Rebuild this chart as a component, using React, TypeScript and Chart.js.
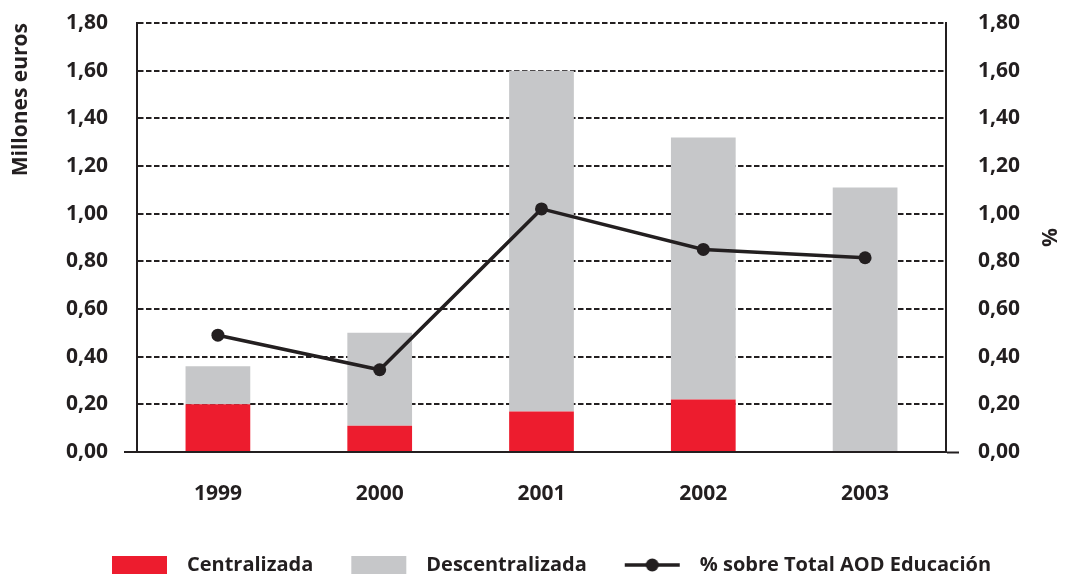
import React, { useEffect, useRef } from "react";
import { Chart, registerables } from "chart.js";

Chart.register(...registerables);

const years = ["1999", "2000", "2001", "2002", "2003"];
const centralizada = [0.2, 0.11, 0.17, 0.22, 0];
const descentralizada = [0.16, 0.39, 1.43, 1.1, 1.11];
const porcentajeAOD = [0.49, 0.345, 1.02, 0.85, 0.815];
const legendLabels = ["Centralizada", "Descentralizada", "% sobre Total AOD Educación"];

const INK = "#231f20";
const RED = "#ed1c2e";
const GRAY = "#c6c7c9";
const FONT = "'Open Sans', 'DejaVu Sans', sans-serif";

const ICON_MARGIN = 38;
const ICON_W = 55;
const ICON_GAP = 10;
const ICON_TOTAL = ICON_MARGIN + ICON_W + ICON_GAP;

function makeIcon(kind: "rect-red" | "rect-gray" | "line"): HTMLCanvasElement {
  const c = document.createElement("canvas");
  c.width = ICON_TOTAL;
  c.height = 18;
  const g = c.getContext("2d")!;
  if (kind === "line") {
    g.strokeStyle = INK;
    g.lineWidth = 3.5;
    g.beginPath();
    g.moveTo(ICON_MARGIN, 9);
    g.lineTo(ICON_MARGIN + ICON_W, 9);
    g.stroke();
    g.fillStyle = INK;
    g.beginPath();
    g.arc(ICON_MARGIN + ICON_W / 2, 9, 6.5, 0, Math.PI * 2);
    g.fill();
  } else {
    g.fillStyle = kind === "rect-red" ? RED : GRAY;
    g.fillRect(ICON_MARGIN, 0, ICON_W, 18);
  }
  return c;
}

const fmt = (v: number | string) => Number(v).toFixed(2).replace(".", ",");

export default function App() {
  const ref = useRef<HTMLCanvasElement | null>(null);

  useEffect(() => {
    document.body.style.margin = "0";
    if (!ref.current) return;
    const icons = [makeIcon("rect-red"), makeIcon("rect-gray"), makeIcon("line")];
    const zeroTick = (ctx: any) => (ctx.tick && ctx.tick.value === 0 ? INK : "rgba(0,0,0,0)");

    const chart = new Chart(ref.current, {
      type: "bar",
      data: {
        labels: years,
        datasets: [
          {
            type: "line",
            label: legendLabels[2],
            data: porcentajeAOD,
            yAxisID: "y1",
            borderColor: INK,
            backgroundColor: INK,
            borderWidth: 3.5,
            pointRadius: 6.5,
            pointBackgroundColor: INK,
            pointBorderWidth: 0,
            tension: 0,
            order: 0,
          } as any,
          {
            type: "bar",
            label: legendLabels[0],
            data: centralizada,
            backgroundColor: RED,
            yAxisID: "y",
            stack: "s",
            barPercentage: 0.4,
            categoryPercentage: 1,
            order: 1,
          },
          {
            type: "bar",
            label: legendLabels[1],
            data: descentralizada,
            backgroundColor: GRAY,
            yAxisID: "y",
            stack: "s",
            barPercentage: 0.4,
            categoryPercentage: 1,
            order: 2,
          },
        ],
      },
      options: {
        responsive: false,
        animation: false,
        devicePixelRatio: 1,
        layout: { padding: { top: 23, left: 0, right: 0, bottom: -10 } },
        plugins: {
          tooltip: { enabled: false },
          legend: {
            position: "bottom",
            align: "center",
            labels: {
              usePointStyle: true,
              pointStyleWidth: ICON_TOTAL,
              padding: 0,
              color: INK,
              font: { family: FONT, size: 20, weight: "bold" },
              generateLabels: () =>
                legendLabels.map((t, i) => ({
                  text: t,
                  pointStyle: icons[i] as any,
                  fillStyle: "rgba(0,0,0,0)",
                  strokeStyle: "rgba(0,0,0,0)",
                  lineWidth: 0,
                  hidden: false,
                  datasetIndex: i === 2 ? 0 : i + 1,
                  fontColor: INK,
                })),
            },
          },
        },
        scales: {
          x: {
            stacked: true,
            z: 1,
            grid: { display: false, drawTicks: false },
            border: { display: true, color: INK, width: 2 },
            ticks: { color: INK, padding: 29, font: { family: FONT, size: 21, weight: "bold" } },
            afterFit: (s: any) => {
              s.height = 103;
            },
          },
          y: {
            stacked: true,
            position: "left",
            min: 0,
            max: 1.8,
            grid: {
              color: INK,
              lineWidth: 2,
              drawTicks: true,
              tickLength: 13,
              tickColor: zeroTick,
              tickWidth: 2,
            },
            border: { display: true, color: INK, width: 2, dash: [5.5, 2.5] },
            ticks: {
              stepSize: 0.2,
              color: INK,
              padding: 16,
              font: { family: FONT, size: 21, weight: "bold" },
              callback: (v: any) => fmt(v),
            },
            title: {
              display: true,
              text: "Millones euros",
              align: "end",
              color: INK,
              padding: { top: 8, bottom: 0 },
              font: { family: FONT, size: 21, weight: "bold" },
            },
            afterFit: (s: any) => {
              s.width = 137;
              s.paddingTop = 0;
              s.paddingBottom = 0;
            },
          },
          y1: {
            position: "right",
            min: 0,
            max: 1.8,
            grid: {
              drawOnChartArea: false,
              drawTicks: true,
              tickLength: 13,
              tickColor: zeroTick,
              tickWidth: 2,
            },
            border: { display: true, color: INK, width: 2 },
            ticks: {
              stepSize: 0.2,
              color: INK,
              padding: 19,
              font: { family: FONT, size: 21, weight: "bold" },
              callback: (v: any) => fmt(v),
            },
            title: {
              display: true,
              text: "%",
              color: INK,
              padding: { top: 4, bottom: 0 },
              font: { family: FONT, size: 21, weight: "bold" },
            },
            afterFit: (s: any) => {
              s.width = 119;
              s.paddingTop = 0;
              s.paddingBottom = 0;
            },
          },
        },
      } as any,
    });
    return () => chart.destroy();
  }, []);

  return (
    <div style={{ width: 1065, height: 575 }}>
      <canvas ref={ref} width={1065} height={575} style={{ display: "block" }} />
    </div>
  );
}
